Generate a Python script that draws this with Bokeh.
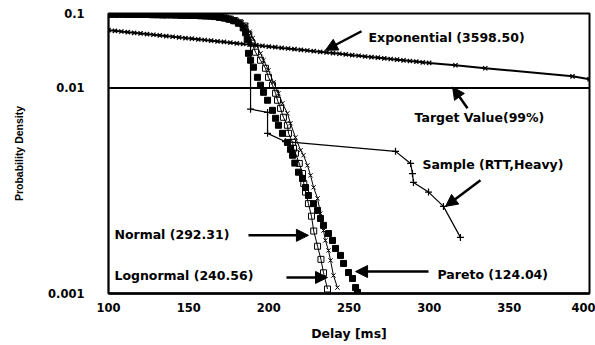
from bokeh.plotting import figure
from bokeh.models import (Range1d, FixedTicker, CustomJSTickFormatter, Arrow,
                          NormalHead, Label)
from bokeh.embed import file_html
from bokeh.resources import INLINE

# ---------------- data ----------------
X_TICKS = [100, 150, 200, 250, 300, 350, 400]
Y_TICK_LABELS = ["0.001", "0.01", "0.1"]
Y_BOTTOM = 1.74e-5   # bottom of the (log) value axis, labelled "0.001"

EXP_X = [100, 104, 108, 112, 116, 120, 124, 128, 132, 136, 140, 144, 148, 152,
         156, 160, 164, 168, 172, 176, 180, 184, 188, 192, 196, 200, 204, 208,
         212, 216, 220, 224, 228, 232, 236, 240, 244, 248, 252, 256, 260, 264,
         268, 272, 276, 280, 284, 288, 292, 296, 300, 316.4, 335.0, 389.4, 400]
EXP_Y = [0.0597, 0.0585, 0.0573, 0.0562, 0.0550, 0.0540, 0.0529, 0.0518, 0.0508,
         0.0497, 0.0488, 0.0478, 0.0468, 0.0459, 0.0450, 0.0441, 0.0432, 0.0423,
         0.0415, 0.0406, 0.0398, 0.0390, 0.0382, 0.0375, 0.0367, 0.0360, 0.0353,
         0.0345, 0.0339, 0.0332, 0.0325, 0.0319, 0.0312, 0.0306, 0.0300, 0.0294,
         0.0288, 0.0282, 0.0276, 0.0271, 0.0265, 0.0260, 0.0255, 0.0250, 0.0245,
         0.0240, 0.0235, 0.0230, 0.0226, 0.0221, 0.0217, 0.0202, 0.0184, 0.01435,
         0.0131]

TARGET_X = [100, 400]
TARGET_Y = [0.01, 0.01]

PARETO_X = [100, 103, 106, 109, 112, 115, 118, 121, 124, 127, 130, 133, 136, 139,
            142, 145, 148, 151, 154, 157, 160, 163, 166, 169, 172, 175, 178, 181,
            184, 185.5, 186.5, 187.3, 188.6, 190.4, 192.9, 194.8, 196.7, 199.2,
            202.3, 204.2, 206.0, 208.5, 211.6, 213.5, 214.8, 216.2, 218.5, 221.0,
            222.9, 224.7, 227.9, 230.4, 232.2, 234.1, 237.2, 239.7, 241.6, 244.7,
            246.6, 249.7, 252.2, 254.1, 255.3]
PARETO_Y = [0.098, 0.098, 0.098, 0.098, 0.0975, 0.0975, 0.097, 0.097, 0.097,
            0.0965, 0.0965, 0.096, 0.096, 0.096, 0.0955, 0.095, 0.095, 0.0945,
            0.094, 0.0935, 0.093, 0.0925, 0.091, 0.089, 0.087, 0.084, 0.080, 0.074,
            0.064, 0.055, 0.045, 0.0292, 0.0236, 0.019, 0.0139, 0.0109, 0.00875,
            0.00684, 0.00501, 0.00392, 0.00316, 0.00246, 0.00186, 0.0015, 0.00125,
            0.00098, 0.00074, 0.00061, 0.00046, 0.00036, 0.00028, 0.000227,
            0.000177, 0.000143, 0.000111, 0.0000898, 0.0000701, 0.0000565,
            0.0000441, 0.0000333, 0.0000277, 0.0000209, 0.000018]

NORMAL_X = [101, 104, 107, 110, 113, 116, 119, 122, 125, 128, 131, 134, 137, 140,
            143, 146, 149, 152, 155, 158, 161, 164, 167, 170, 173, 176, 179, 182,
            185, 187.5, 189.5, 191.7, 194.8, 197.9, 199.8, 202.3, 204.2, 205.4,
            207.3, 209.1, 211.6, 212.3, 214.8, 215.4, 216.6, 219.0, 221.0, 221.8,
            222.9, 224.7, 226.6, 228.0, 230.4, 232.5, 234.1, 236.6]
NORMAL_Y = [0.098, 0.098, 0.098, 0.098, 0.0975, 0.0975, 0.097, 0.097, 0.097,
            0.0965, 0.0965, 0.096, 0.096, 0.096, 0.0955, 0.095, 0.095, 0.0945,
            0.094, 0.0935, 0.093, 0.092, 0.091, 0.089, 0.087, 0.084, 0.080, 0.075,
            0.068, 0.052, 0.04, 0.0302, 0.0236, 0.0184, 0.0139, 0.0109, 0.00849,
            0.00684, 0.00533, 0.00404, 0.00316, 0.00246, 0.00186, 0.00155, 0.00133,
            0.00097, 0.00071, 0.00052, 0.0004, 0.00028, 0.00019, 0.00012, 0.000075,
            0.00005, 0.000033, 0.00002]

LOGN_X = [102, 105, 108, 111, 114, 117, 120, 123, 126, 129, 132, 135, 138, 141,
          144, 147, 150, 153, 156, 159, 162, 165, 168, 171, 174, 177, 180, 183,
          186, 188, 190, 192.5, 194.8, 196.7, 199.8, 202.9, 206.0, 208.5, 211.6,
          213.5, 216.6, 219.8, 221.6, 224.1, 226.0, 227.9, 230.4, 232.2, 234.1,
          235.3, 237.2, 238.5, 240.3, 242.8]
LOGN_Y = [0.098, 0.098, 0.098, 0.098, 0.0975, 0.0975, 0.097, 0.097, 0.097,
          0.0965, 0.0965, 0.096, 0.096, 0.096, 0.0955, 0.095, 0.095, 0.0945,
          0.094, 0.0935, 0.093, 0.092, 0.091, 0.089, 0.087, 0.084, 0.080, 0.076,
          0.070, 0.057, 0.047, 0.037, 0.0292, 0.0236, 0.0173, 0.0119, 0.00849,
          0.00623, 0.00457, 0.00336, 0.00217, 0.00146, 0.00125, 0.000914,
          0.000671, 0.000463, 0.000329, 0.000207, 0.000122, 0.0000898, 0.0000659,
          0.0000484, 0.0000304, 0.0000209]

SAMPLE_X = [100, 105, 110, 115, 120, 125, 130, 135, 140, 145, 150, 155, 160, 165,
            170, 175, 180, 184, 186.5, 188.6, 188.6, 199.2, 199.2, 210.4, 279.0,
            288.4, 289.6, 290.2, 299.6, 308.9, 319.5]
SAMPLE_Y = [0.098, 0.098, 0.0975, 0.0975, 0.097, 0.097, 0.0965, 0.096, 0.096,
            0.0955, 0.095, 0.0945, 0.0935, 0.092, 0.089, 0.085, 0.078, 0.066,
            0.052, 0.04, 0.0052, 0.0047, 0.00246, 0.0019, 0.00141, 0.00097,
            0.00071, 0.00054, 0.0004, 0.000257, 0.0000986]

# ---------------- figure ----------------
p = figure(width=595, height=345, y_axis_type="log",
           x_range=Range1d(100, 400), y_range=Range1d(Y_BOTTOM, 0.1),
           output_backend="svg", toolbar_location=None,
           min_border_left=108, min_border_right=6,
           min_border_top=13, min_border_bottom=52)
p.background_fill_color = "white"
p.border_fill_color = "white"
p.xgrid.visible = False
p.ygrid.visible = False
p.outline_line_color = "black"
p.outline_line_width = 2
p.outline_line_alpha = 1

TICK_FONT = "DejaVu Sans"
p.xaxis.ticker = FixedTicker(ticks=X_TICKS)
p.yaxis.ticker = FixedTicker(ticks=[Y_BOTTOM, 0.01, 0.1])
p.yaxis.formatter = CustomJSTickFormatter(
    args=dict(labels=Y_TICK_LABELS),
    code="if (tick >= 0.05) return labels[2]; if (tick >= 0.005) return labels[1]; return labels[0];")
for ax in (p.xaxis, p.yaxis):
    ax.major_tick_line_color = None
    ax.minor_tick_line_color = None
    ax.major_tick_out = 0
    ax.major_tick_in = 0
    ax.axis_line_color = "black"
    ax.major_label_text_font = TICK_FONT
    ax.major_label_text_font_style = "bold"
    ax.major_label_text_font_size = "11.5px"
    ax.major_label_text_color = "black"
    ax.axis_label_text_color = "black"
    ax.axis_label_text_font_style = "bold"
p.xaxis.axis_line_width = 2.5
p.yaxis.axis_line_width = 1.5
p.xaxis.major_label_standoff = 9
p.yaxis.major_label_standoff = 24
p.xaxis.axis_label = "Delay [ms]"
p.xaxis.axis_label_text_font = "DejaVu Sans"
p.xaxis.axis_label_text_font_size = "12.5px"
p.xaxis.axis_label_standoff = 11
p.yaxis.axis_label = "Probability Density"
p.yaxis.axis_label_text_font = "Liberation Sans"
p.yaxis.axis_label_text_font_size = "10.5px"
p.yaxis.axis_label_standoff = 20

# series
p.line(EXP_X, EXP_Y, line_color="black", line_width=2)
p.scatter(EXP_X, EXP_Y, marker="x", size=6, line_color="black", line_width=1.3)
p.line(TARGET_X, TARGET_Y, line_color="black", line_width=2)
p.line(NORMAL_X, NORMAL_Y, line_color="black", line_width=1)
p.scatter(NORMAL_X, NORMAL_Y, marker="square", size=6,
          fill_color=None, line_color="black", line_width=1)
p.line(LOGN_X, LOGN_Y, line_color="black", line_width=1)
p.scatter(LOGN_X, LOGN_Y, marker="x", size=6, line_color="black", line_width=1)
p.scatter(PARETO_X, PARETO_Y, marker="square", size=6,
          fill_color="black", line_color="black")
p.line(SAMPLE_X, SAMPLE_Y, line_color="black", line_width=1.2)
p.scatter(SAMPLE_X, SAMPLE_Y, marker="cross", size=7, line_color="black",
          line_width=1.2)

# annotations
LBL_FONT = "DejaVu Sans"
def add_label(x, y, text):
    p.add_layout(Label(x=x, y=y, text=text, text_font=LBL_FONT,
                       text_font_style="bold", text_font_size="12.5px",
                       text_baseline="middle", text_align="left",
                       text_color="black"))

def add_arrow(x0, y0, x1, y1):
    p.add_layout(Arrow(end=NormalHead(size=12, fill_color="black",
                                      line_color="black"),
                       x_start=x0, y_start=y0, x_end=x1, y_end=y1,
                       line_color="black", line_width=2.5))

add_label(262.2, 0.048, "Exponential (3598.50)")
add_arrow(257.8, 0.0578, 235.3, 0.0321)
add_label(290.9, 0.00404, "Target Value(99%)")
add_arrow(323.9, 0.00533, 314.6, 0.0103)
add_label(295.8, 0.000944, "Sample (RTT,Heavy)")
add_arrow(332.0, 0.000575, 310.2, 0.000257)
add_label(103.7, 0.000108, "Normal (292.31)")
add_arrow(187.3, 0.000105, 224.7, 0.000105)
add_label(103.7, 0.0000304, "Lognormal (240.56)")
add_arrow(211.0, 0.0000286, 236.6, 0.0000286)
add_label(305.2, 0.0000313, "Pareto (124.04)")
add_arrow(299.6, 0.0000343, 254.1, 0.0000343)

open("out.html", "w").write(file_html(p, INLINE))
